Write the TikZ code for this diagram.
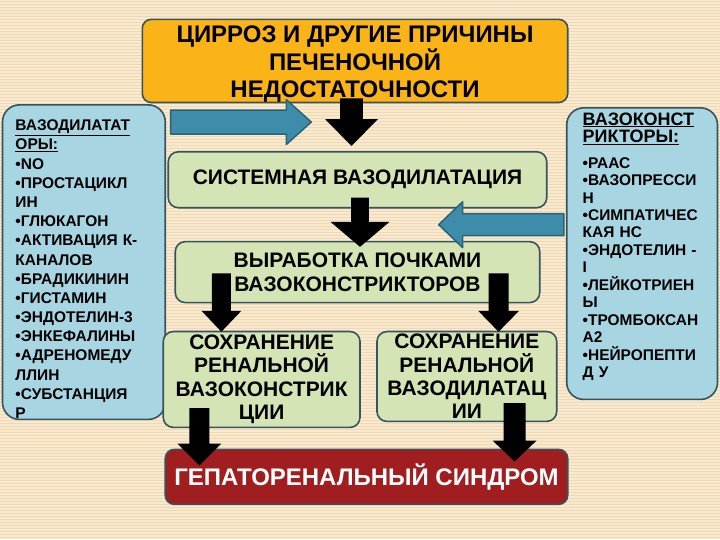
\documentclass[tikz,border=0pt]{standalone}
\usepackage{fontspec}
\setmainfont{Liberation Sans}
\usetikzlibrary{calc}
\definecolor{bgbeige}{HTML}{F8E9CF}
\definecolor{bgline}{HTML}{EFD9B4}
\definecolor{boxedge}{HTML}{36535E}
\definecolor{causeorange}{HTML}{FBB417}
\definecolor{sideblue}{HTML}{A8D5E2}
\definecolor{stepgreen}{HTML}{D5E4B4}
\definecolor{syndred}{HTML}{A01E20}
\definecolor{arrblue}{HTML}{3C8CAA}
\definecolor{arredge}{HTML}{2A6276}

% block arrow pointing down: #1 start, #2 tip, #3 shaft half width, #4 head half width, #5 head length
\newcommand{\dnarr}[5]{%
  \fill[black] let \p1=#1, \p2=#2 in
    ({\x1-#3},{\y1}) -- ({\x1-#3},{\y2+#5}) -- ({\x1-#4},{\y2+#5}) -- ({\x1},{\y2})
    -- ({\x1+#4},{\y2+#5}) -- ({\x1+#3},{\y2+#5}) -- ({\x1+#3},{\y1}) -- cycle;}
% block arrow sideways: #5 head length, signed (+ right, - left)
\newcommand{\hzarr}[5]{%
  \draw[fill=arrblue, draw=arredge, line width=1.5pt, line join=round] let \p1=#1, \p2=#2 in
    ({\x1},{\y1+#3}) -- ({\x2-#5},{\y1+#3}) -- ({\x2-#5},{\y1+#4}) -- ({\x2},{\y1})
    -- ({\x2-#5},{\y1-#4}) -- ({\x2-#5},{\y1-#3}) -- ({\x1},{\y1-#3}) -- cycle;}

\begin{document}
\begin{tikzpicture}[x=1pt, y=-1pt,
  box/.style={draw=boxedge, line width=1.6pt, inner sep=0pt, align=center},
  causebox/.style={box, fill=causeorange, rounded corners=9pt,
    font=\bfseries\fontsize{24}{27.5}\selectfont},
  sidebox/.style={box, fill=sideblue, rounded corners=17pt, align=left,
    font=\bfseries\fontsize{15.5}{19.2}\selectfont},
  stepbox/.style={box, fill=stepgreen, rounded corners=10pt,
    font=\bfseries\fontsize{21}{23.5}\selectfont},
  syndbox/.style={box, fill=syndred, rounded corners=9pt, text=white,
    font=\bfseries\fontsize{24}{26}\selectfont}]

% background
\fill[bgbeige] (0,0) rectangle (720,540);
\foreach \yy in {1.5,4.5,...,540}
  \draw[bgline, line width=1pt] (0,\yy) -- (720,\yy);
\useasboundingbox (0,0) rectangle (720,540);

% boxes
\node[causebox, minimum width=426pt, minimum height=78pt] (cause) at (355,61)
  {\rule{0pt}{23.5pt}ЦИРРОЗ И ДРУГИЕ ПРИЧИНЫ\\ПЕЧЕНОЧНОЙ\\НЕДОСТАТОЧНОСТИ};
\node[sidebox, minimum width=163pt, minimum height=315pt, text width=137pt] (dilat) at (83.5,262.5)
  {\rule{0pt}{25pt}\underline{ВАЗОДИЛАТАТ}\\\underline{ОРЫ:}\\•NO\\•ПРОСТАЦИКЛ\\ИН\\•ГЛЮКАГОН\\•АКТИВАЦИЯ К-\\КАНАЛОВ\\
   •БРАДИКИНИН\\•ГИСТАМИН\\•ЭНДОТЕЛИН-3\\•ЭНКЕФАЛИНЫ\\•АДРЕНОМЕДУ\\ЛЛИН\\•СУБСТАНЦИЯ\\Р};
\node[sidebox, minimum width=151pt, minimum height=292pt, text width=119pt,
  font=\bfseries\fontsize{15.5}{17.5}\selectfont] (constr) at (642.5,254)
  {{\fontsize{18}{18}\selectfont\underline{ВАЗОКОНСТ}\\\underline{РИКТОРЫ:}}\\[8pt]•РААС\\•ВАЗОПРЕССИ\\Н\\
   •СИМПАТИЧЕС\\КАЯ НС\\•ЭНДОТЕЛИН -\\I\\•ЛЕЙКОТРИЕН\\Ы\\•ТРОМБОКСАН\\А2\\•НЕЙРОПЕПТИ\\Д У\rule[-17pt]{0pt}{17pt}};
\node[stepbox, minimum width=379pt, minimum height=56pt] (sysdil) at (357.5,180)
  {СИСТЕМНАЯ ВАЗОДИЛАТАЦИЯ};
\node[stepbox, minimum width=365pt, minimum height=61pt] (kidney) at (357.5,272.5)
  {ВЫРАБОТКА ПОЧКАМИ\\ВАЗОКОНСТРИКТОРОВ};
\node[stepbox, minimum width=197pt, minimum height=96pt] (keepcon) at (261.5,380)
  {СОХРАНЕНИЕ\\РЕНАЛЬНОЙ\\ВАЗОКОНСТРИК\\ЦИИ};
\node[stepbox, minimum width=180pt, minimum height=90pt] (keepdil) at (467,377)
  {СОХРАНЕНИЕ\\РЕНАЛЬНОЙ\\ВАЗОДИЛАТАЦ\\ИИ};
\node[syndbox, minimum width=403pt, minimum height=55pt] (hrs) at (366.5,477.5)
  {ГЕПАТОРЕНАЛЬНЫЙ СИНДРОМ};

% side arrows
\hzarr{($(dilat.north east)+(4.5,18)$)}{($(sysdil.north west)+(144,-29)$)}{12}{22.5}{25}
\hzarr{($(constr.west)+(-2,-29)$)}{($(kidney.north east)+(-102,-17)$)}{11}{23}{(-24)}

% main arrows
\dnarr{($(cause.south)+(-3.5,-5)$)}{($(sysdil.north)+(0,-5)$)}{11.5}{26.5}{27}
\dnarr{($(sysdil.south)+(2.5,-11)$)}{($(kidney.north)+(0,6)$)}{9}{29.5}{25}
\dnarr{($(kidney.south west)+(47,-30)$)}{($(keepcon.north)+(0,1)$)}{9.5}{20}{21}
\dnarr{($(kidney.south east)+(-42,-30)$)}{($(keepdil.north)+(0,1)$)}{10}{20.5}{21}
\dnarr{($(keepcon.south west)+(37,-20)$)}{($(hrs.north)+(0,17)$)}{10}{22}{22}
\dnarr{($(keepdil.south east)+(-43,-19)$)}{($(hrs.north)+(0,13)$)}{11}{22}{21}
\end{tikzpicture}
\end{document}
